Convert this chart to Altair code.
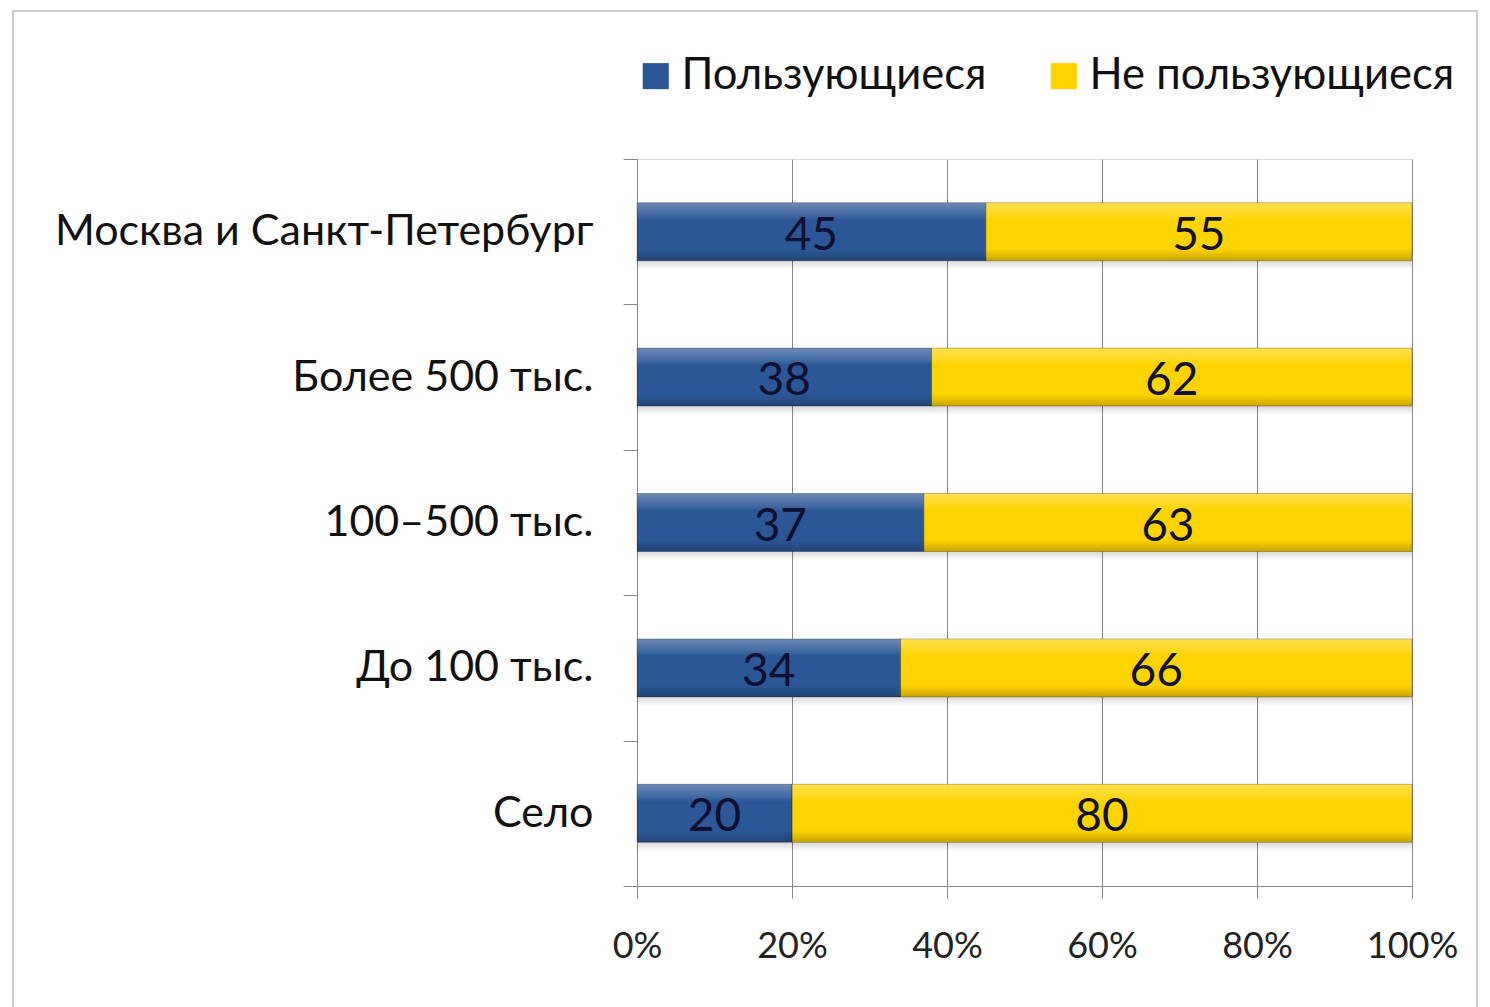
import altair as alt
import pandas as pd

categories = ["Москва и Санкт-Петербург", "Более 500 тыс.", "100–500 тыс.", "До 100 тыс.", "Село"]
users = [45, 38, 37, 34, 20]
non_users = [55, 62, 63, 66, 80]
series = ["Пользующиеся", "Не пользующиеся"]
colors = ["#2B5796", "#FFD300"]
x_ticks = [0, 20, 40, 60, 80, 100]

rows = []
for c, u, n in zip(categories, users, non_users):
    rows.append({"cat": c, "series": series[0], "order": 0, "value": u})
    rows.append({"cat": c, "series": series[1], "order": 1, "value": n})
df = pd.DataFrame(rows)

FONT = "Lato"
BAR = 58

base = alt.Chart(df).transform_stack(
    stack="value", groupby=["cat"], as_=["v0", "v1"], sort=[alt.SortField("order")]
).transform_calculate(mid="(datum.v0 + datum.v1) / 2")

yenc = alt.Y("cat:N", sort=categories, title=None,
             scale=alt.Scale(paddingInner=0, paddingOuter=0),
             axis=alt.Axis(tickBand="extent", labelFontSize=43, labelFont=FONT,
                           labelColor="#111111", labelPadding=30, tickSize=14,
                           domainColor="#888888", tickColor="#888888", grid=False,
                           labelLimit=800))

xenc = alt.X("v0:Q", title=None, scale=alt.Scale(domain=[0, 100]),
             axis=alt.Axis(values=x_ticks, labelExpr="datum.value + '%'", labelFontSize=36,
                           labelFont=FONT, labelColor="#222222", labelPadding=31, tickSize=12,
                           labelFlush=False,
                           grid=True, gridColor="#888888", domainColor="#888888",
                           tickColor="#888888"))

shadow_grad = alt.LinearGradient(
    gradient="linear", x1=0, x2=0, y1=0, y2=1,
    stops=[alt.GradientStop(color="rgba(0,0,0,0.0)", offset=0),
           alt.GradientStop(color="rgba(0,0,0,0.18)", offset=0.82),
           alt.GradientStop(color="rgba(0,0,0,0.0)", offset=1)])

shadow = base.mark_bar(size=BAR, yOffset=9, fill=shadow_grad).encode(
    x=xenc, x2="v1:Q", y=yenc
)

bars = base.mark_bar(size=BAR).encode(
    x=xenc,
    x2="v1:Q",
    y=yenc,
    color=alt.Color("series:N", sort=series,
                    scale=alt.Scale(domain=series, range=colors),
                    legend=alt.Legend(title=None, orient="none", legendX=-3, legendY=-105,
                                      direction="horizontal", symbolType="square",
                                      symbolSize=680, symbolStrokeWidth=0,
                                      labelFontSize=43.5, labelFont=FONT, labelColor="#111111",
                                      columnPadding=55, symbolOffset=0, labelOffset=4,
                                      labelLimit=600)),
)

bevel_grad = alt.LinearGradient(
    gradient="linear", x1=0, x2=0, y1=0, y2=1,
    stops=[alt.GradientStop(color="rgba(255,255,255,0.30)", offset=0),
           alt.GradientStop(color="rgba(255,255,255,0.10)", offset=0.22),
           alt.GradientStop(color="rgba(255,255,255,0.0)", offset=0.3),
           alt.GradientStop(color="rgba(0,0,0,0.0)", offset=0.8),
           alt.GradientStop(color="rgba(0,0,0,0.22)", offset=1)])

bevel = base.mark_bar(size=BAR, fill=bevel_grad, stroke="rgba(0,0,0,0.25)",
                      strokeWidth=1).encode(
    x=xenc, x2="v1:Q", y=yenc
)

labels = base.mark_text(fontSize=46, font=FONT, color="#101030", baseline="middle", dy=4).encode(
    x="mid:Q",
    y=alt.Y("cat:N", sort=categories),
    text="value:Q",
)

frame = alt.Chart(pd.DataFrame({"a": [0]})).mark_rect(
    fill=None, stroke="#cfcfcf", strokeWidth=2
).encode(
    x=alt.value(-624), x2=alt.value(840), y=alt.value(-148), y2=alt.value(870)
)

chart = alt.layer(frame, shadow, bars, bevel, labels).properties(
    width=775, height=727,
    padding={"left": 4, "top": 2, "right": 0, "bottom": 0},
).configure_view(stroke=None).configure(background="white")

chart.save("out.html", embed_options={"renderer": "svg", "actions": False})
